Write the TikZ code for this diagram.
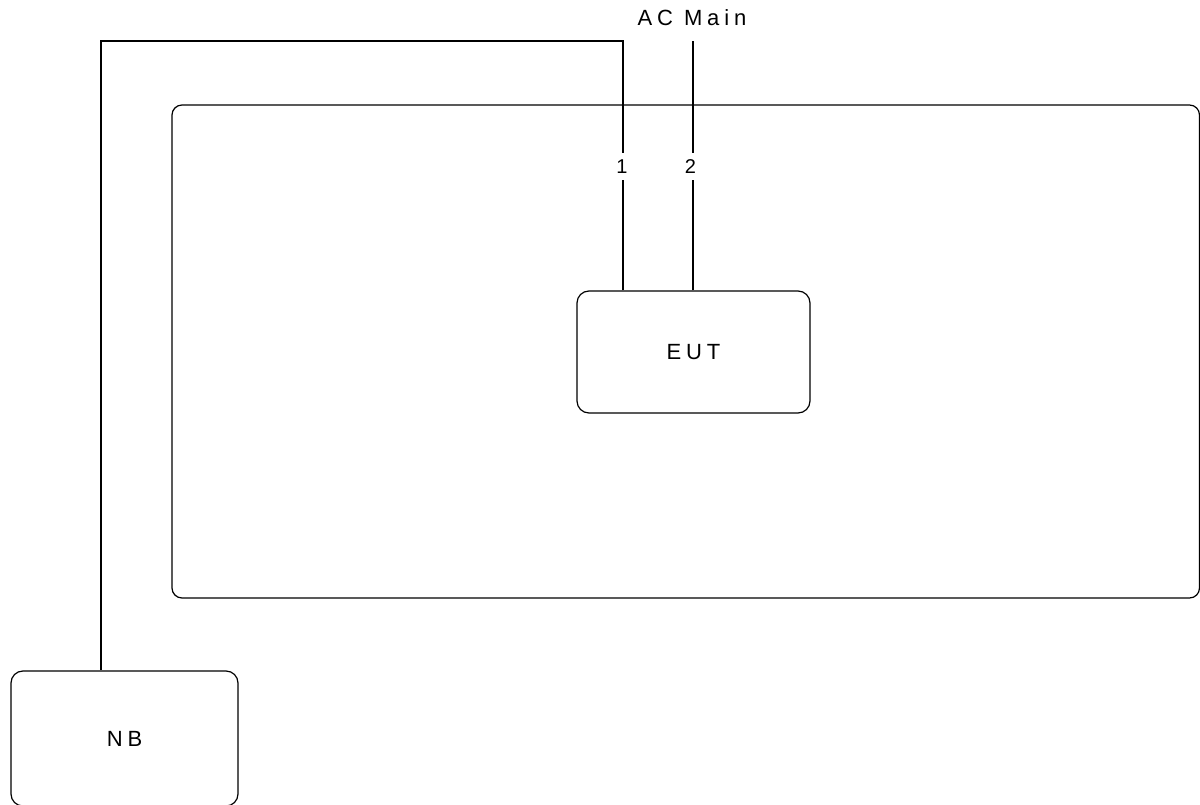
\documentclass[tikz,border=0pt]{standalone}
\usepackage{fontspec}
\setmainfont{Liberation Sans}
\newfontfamily\spaced[LetterSpace=22]{Liberation Sans}
\begin{document}
\begin{tikzpicture}[x=1pt,y=-1pt]

	\tikzstyle{box} = [draw, rounded corners=12pt, line width=1.2pt, inner sep=0pt, align=center, font=\spaced\fontsize{22}{26}\selectfont];
	\tikzstyle{wire} = [line width=1.2pt];
	\tikzstyle{pin} = [inner sep=0pt, minimum height=27pt, font=\fontsize{20}{24}\selectfont];

	\useasboundingbox (0,0) rectangle (1200,805);

	\draw[wire, rounded corners=10pt] (172,105) rectangle (1199.5,598);

	\node[box, minimum width=233pt, minimum height=122pt] (eut) at (693.5,352) {EUT};
	\node[box, minimum width=227pt, minimum height=135pt] (nb) at (124.5,738.5) {NB};
	\node[font=\spaced\fontsize{22}{26}\selectfont, inner sep=0pt] (acmain) at (692,18) {AC\ Main};
	\node[pin] (pin1) at (622,166.5) {1};
	\node[pin] (pin2) at (690.5,166.5) {2};

	\coordinate (ac) at (693,41);
	\coordinate (bend) at (623,41);
	\coordinate (nbbend) at (101,41);

	\draw[wire] (eut.north -| ac) -- (pin2.south -| ac);
	\draw[wire] (pin2.north -| ac) -- (ac);
	\draw[wire] (eut.north -| bend) -- (pin1.south -| bend);
	\draw[wire] (pin1.north -| bend) -- (bend) -- (nbbend) -- (nb.north -| nbbend);

\end{tikzpicture}
\end{document}
